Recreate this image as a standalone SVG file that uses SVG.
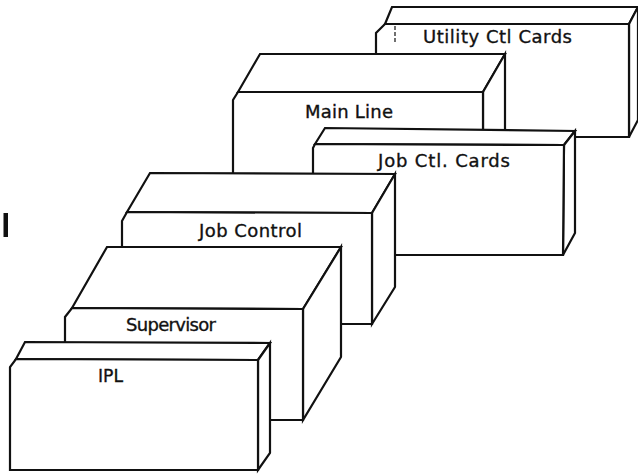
<svg xmlns="http://www.w3.org/2000/svg" width="638" height="474" viewBox="0 0 638 474">
  <style>
    .face { fill: #ffffff; stroke: #111111; stroke-width: 2.2; stroke-linejoin: miter; }
    .label { font-family: "DejaVu Sans", "Liberation Sans", sans-serif; font-size: 18px; fill: #111111; stroke: #111111; stroke-width: 0.35; }
    .mark { fill: #111111; }
  </style>

  <rect width="638" height="474" fill="#ffffff"/>

  <!-- change bar in the margin -->
  <rect class="mark" x="3.5" y="213" width="4.5" height="24"/>

  <!-- blocks drawn back to front so nearer blocks hide the ones behind -->
  <g id="utility-ctl-cards">
    <polygon class="face" points="385,24 392,7 638,7 629,24"/>
    <polygon class="face" points="629,24 638,7 638,120 629,137"/>
    <polygon class="face" points="385,24 629,24 629,137 376,137 376,33"/>
    <line x1="395" y1="26" x2="395" y2="44" stroke="#111111" stroke-width="1.2" stroke-dasharray="4 2"/>
    <text class="label" x="423" y="43" textLength="149" lengthAdjust="spacing">Utility Ctl Cards</text>
  </g>

  <g id="main-line">
    <polygon class="face" points="238,92 260,54 505,54 483,92"/>
    <polygon class="face" points="483,92 505,54 505,162 483,200"/>
    <polygon class="face" points="238,92 483,92 483,200 233,200 233,100"/>
    <text class="label" x="305" y="118" textLength="88" lengthAdjust="spacing">Main Line</text>
  </g>

  <g id="job-ctl-cards">
    <polygon class="face" points="315,144 325,128 575,131 564,145"/>
    <polygon class="face" points="564,145 575,131 575,233 563,255"/>
    <polygon class="face" points="315,144 564,145 563,255 313,255 313,148"/>
    <text class="label" x="378" y="167" textLength="132" lengthAdjust="spacing">Job Ctl. Cards</text>
  </g>

  <g id="job-control">
    <polygon class="face" points="127,212 150,173 395,174 372,213"/>
    <polygon class="face" points="372,213 395,174 395,287 372,324"/>
    <polygon class="face" points="127,212 372,213 372,324 122,324 122,221"/>
    <text class="label" x="199" y="237" textLength="103" lengthAdjust="spacing">Job Control</text>
  </g>

  <g id="supervisor">
    <polygon class="face" points="72,308 107,247 341,247 303,309"/>
    <polygon class="face" points="303,309 341,247 341,357 303,420"/>
    <polygon class="face" points="72,308 303,309 303,420 65,420 65,317"/>
    <text class="label" x="126" y="331" textLength="90" lengthAdjust="spacing">Supervisor</text>
  </g>

  <g id="ipl">
    <polygon class="face" points="16,359 25,342 270,343 258,360"/>
    <polygon class="face" points="258,360 270,343 270,453 258,470"/>
    <polygon class="face" points="16,359 258,360 258,470 10,470 10,367"/>
    <text class="label" x="98" y="382" textLength="25" lengthAdjust="spacingAndGlyphs">IPL</text>
  </g>

  <g id="connectors"/>
</svg>
